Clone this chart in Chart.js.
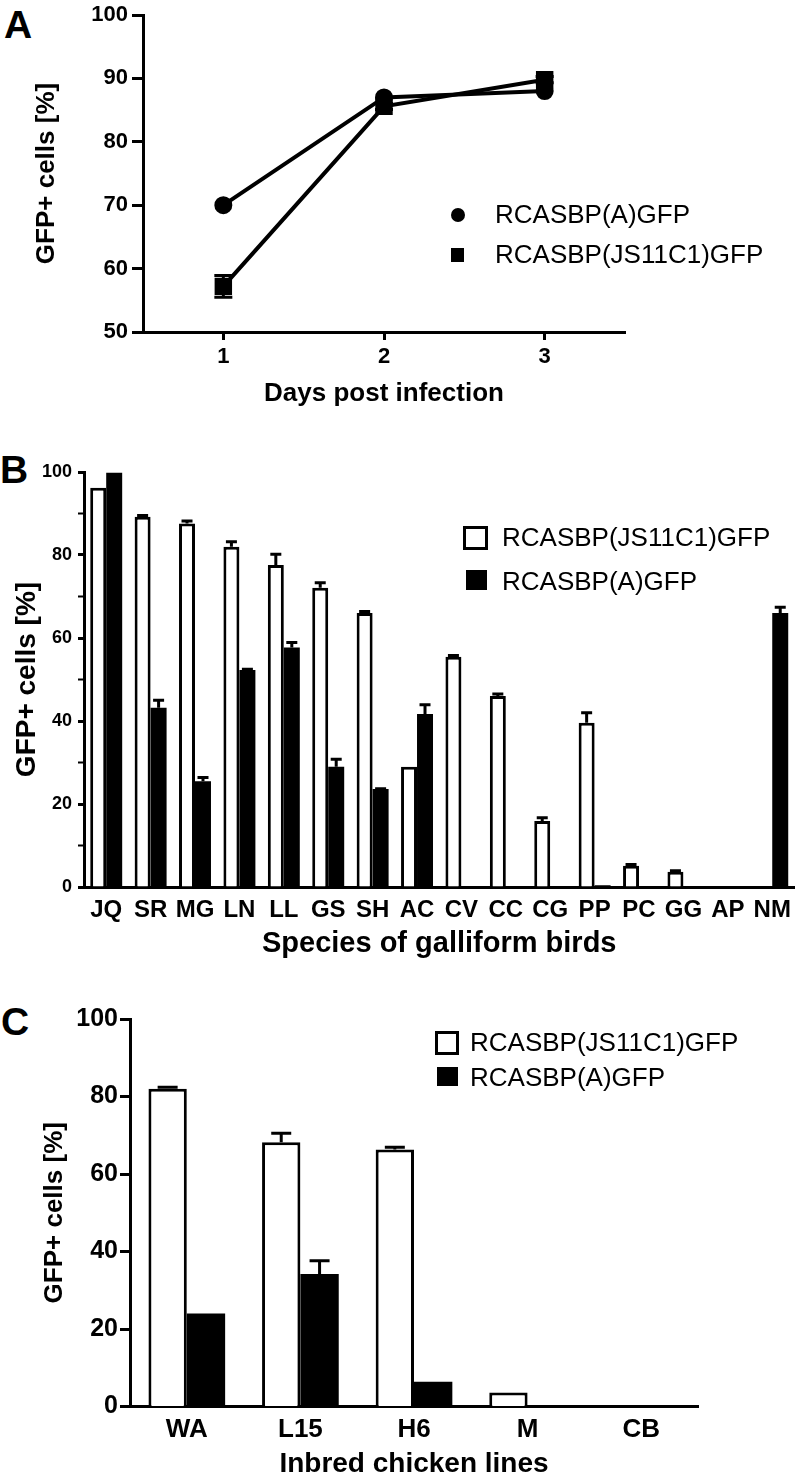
<!DOCTYPE html>
<html>
<head>
<meta charset="utf-8">
<title>GFP+ cells</title>
<script src="https://cdn.jsdelivr.net/npm/chart.js@4.4.1/dist/chart.umd.min.js"></script>
<style>
  body {
    margin: 0;
    width: 800px;
    height: 1478px;
    position: relative;
    overflow: hidden;
    background: #fff;
    font-family: "Liberation Sans", Arial, sans-serif;
    color: #000;
  }
  canvas, .lbl, .leg, .mk { position: absolute; }
  .lbl { font-weight: bold; font-size: 39px; line-height: 1; }
  .leg { font-size: 26px; line-height: 1; white-space: nowrap; }
  .mk { box-sizing: border-box; background: #000; }
  .mk.open { background: #fff; border: 3px solid #000; }
  .mk.dot { border-radius: 50%; }
</style>
</head>
<body>
<div class="lbl" style="left:4px;top:5px">A</div>
<div class="lbl" style="left:0px;top:450px">B</div>
<div class="lbl" style="left:1px;top:1002px">C</div>

<canvas id="lineChart" width="800" height="420" style="left:0;top:0;width:800px;height:420px"></canvas>
<canvas id="speciesChart" width="800" height="530" style="left:0;top:440px;width:800px;height:530px"></canvas>
<canvas id="inbredChart" width="800" height="503" style="left:0;top:975px;width:800px;height:503px"></canvas>

<!-- legends -->
<div class="mk dot" style="left:451px;top:208px;width:14px;height:14px"></div>
<div class="leg" id="legA1" style="left:495px;top:201px"></div>
<div class="mk" style="left:451px;top:248px;width:13px;height:14px"></div>
<div class="leg" id="legA2" style="left:495px;top:241px"></div>

<div class="mk open" style="left:463px;top:526px;width:25px;height:24px"></div>
<div class="leg" id="legB1" style="left:502px;top:524px"></div>
<div class="mk" style="left:466px;top:570px;width:21px;height:20px"></div>
<div class="leg" id="legB2" style="left:502px;top:568px"></div>

<div class="mk open" style="left:435px;top:1031px;width:24px;height:24px"></div>
<div class="leg" id="legC1" style="left:470px;top:1029px"></div>
<div class="mk" style="left:437px;top:1067px;width:21px;height:19px"></div>
<div class="leg" id="legC2" style="left:470px;top:1064px"></div>

<script>
// series names
const nameA = "RCASBP(A)GFP";
const nameJS = "RCASBP(JS11C1)GFP";

// A: infection time course
const days = [1, 2, 3];
const dayA = [70, 87, 88];
const dayAErr = [0, 0, 0];
const dayJS = [57.2, 85.6, 89.8];
const dayJSErr = [1.7, 0.5, 0.5];

// B: galliform species
const species = ["JQ", "SR", "MG", "LN", "LL", "GS", "SH", "AC", "CV", "CC", "CG", "PP", "PC", "GG", "AP", "NM"];
const speciesJS = [96.2, 89.2, 87.6, 82, 77.6, 72.1, 66, 29, 55.5, 46, 15.9, 39.6, 5.1, 3.7, 0, 0];
const speciesJSErr = [0, 0.3, 0.6, 1.2, 2.6, 1.2, 0.4, 0, 0.3, 0.5, 0.8, 2.4, 0.3, 0.2, 0, 0];
const speciesA = [99.8, 43.2, 25.5, 52.3, 57.7, 29, 23.6, 41.7, 0, 0, 0, 0.4, 0, 0, 0, 66];
const speciesAErr = [0, 1.8, 0.9, 0.2, 1.2, 1.8, 0.1, 2.2, 0, 0, 0, 0, 0, 0, 0, 1.4];

// C: inbred chicken lines
const lines = ["WA", "L15", "H6", "M", "CB"];
const linesJS = [82, 68.2, 66.3, 3.6, 0];
const linesJSErr = [0.4, 2.3, 0.6, 0, 0];
const linesA = [24, 34.2, 6.4, 0.3, 0];
const linesAErr = [0, 3.4, 0, 0, 0];

const yTitle = "GFP+ cells [%]";

Chart.defaults.font.family = '"Liberation Sans", Arial, sans-serif';
Chart.defaults.color = "#000";

// draws SEM bars from dataset.errors
const errorBars = {
  id: "errorBars",
  afterDatasetsDraw(chart, args, opts) {
    const ctx = chart.ctx;
    const yScale = chart.scales.y;
    ctx.save();
    ctx.strokeStyle = "#000";
    ctx.lineWidth = 3;
    chart.data.datasets.forEach((ds, i) => {
      if (!ds.errors) return;
      const meta = chart.getDatasetMeta(i);
      meta.data.forEach((el, j) => {
        const err = ds.errors[j];
        if (!err) return;
        const raw = ds.data[j];
        const v = typeof raw === "object" ? raw.y : raw;
        const hi = yScale.getPixelForValue(v + err);
        const lo = opts.both ? yScale.getPixelForValue(v - err) : el.y;
        const half = opts.cap / 2;
        ctx.beginPath();
        ctx.moveTo(el.x, lo);
        ctx.lineTo(el.x, hi);
        ctx.moveTo(el.x - half, hi);
        ctx.lineTo(el.x + half, hi);
        if (opts.both) {
          ctx.moveTo(el.x - half, lo);
          ctx.lineTo(el.x + half, lo);
        }
        ctx.stroke();
      });
    });
    ctx.restore();
  },
};

const axisBorder = { color: "#000", width: 3 };

//Line Chart (A)
document.addEventListener("DOMContentLoaded", function () {
  document.getElementById("legA1").textContent = nameA;
  document.getElementById("legA2").textContent = nameJS;

  const ctx = document.getElementById("lineChart").getContext("2d");
  new Chart(ctx, {
    type: "line",
    data: {
      datasets: [
        {
          label: nameA,
          data: days.map((d, i) => ({ x: d, y: dayA[i] })),
          errors: dayAErr,
          borderColor: "#000",
          backgroundColor: "#000",
          borderWidth: 4,
          pointStyle: "circle",
          pointRadius: 7,
          tension: 0,
        },
        {
          label: nameJS,
          data: days.map((d, i) => ({ x: d, y: dayJS[i] })),
          errors: dayJSErr,
          borderColor: "#000",
          backgroundColor: "#000",
          borderWidth: 4,
          pointStyle: "rect",
          pointRadius: 9.5,
          tension: 0,
        },
      ],
    },
    options: {
      responsive: false,
      animation: false,
      layout: { padding: { top: 11, right: 175, left: 0, bottom: 0 } },
      plugins: {
        legend: { display: false },
        tooltip: { enabled: false },
        errorBars: { cap: 18, both: true },
      },
      scales: {
        x: {
          type: "linear",
          min: 0.5,
          max: 3.5,
          afterBuildTicks: (s) => {
            s.ticks = days.map((d) => ({ value: d }));
          },
          afterFit: (s) => {
            s.height = 88;
          },
          grid: { drawOnChartArea: false, tickLength: 8, tickWidth: 3, tickColor: "#000" },
          border: axisBorder,
          ticks: { font: { size: 22, weight: "bold" }, padding: 4 },
          title: {
            display: true,
            text: "Days post infection",
            font: { size: 26, weight: "bold" },
            padding: { top: 0, bottom: 11 },
          },
        },
        y: {
          min: 50,
          max: 100,
          ticks: { stepSize: 10, font: { size: 22, weight: "bold", lineHeight: 1 }, padding: 4 },
          afterFit: (s) => {
            s.width = 143;
          },
          grid: { drawOnChartArea: false, tickLength: 11, tickWidth: 3, tickColor: "#000" },
          border: axisBorder,
          title: {
            display: true,
            text: yTitle,
            font: { size: 26, weight: "bold" },
            padding: { top: 31, bottom: 0 },
          },
        },
      },
    },
    plugins: [errorBars],
  });
});

//Bar Chart (B)
document.addEventListener("DOMContentLoaded", function () {
  document.getElementById("legB1").textContent = nameJS;
  document.getElementById("legB2").textContent = nameA;

  const ctx = document.getElementById("speciesChart").getContext("2d");
  new Chart(ctx, {
    type: "bar",
    data: {
      labels: species,
      datasets: [
        {
          label: nameJS,
          data: speciesJS,
          errors: speciesJSErr,
          backgroundColor: "#fff",
          borderColor: "#000",
          borderWidth: 3,
        },
        {
          label: nameA,
          data: speciesA,
          errors: speciesAErr,
          backgroundColor: "#000",
          borderWidth: 0,
        },
      ],
    },
    options: {
      responsive: false,
      animation: false,
      categoryPercentage: 0.72,
      barPercentage: 1,
      layout: { padding: { top: 32, right: 3, left: 0, bottom: 0 } },
      plugins: {
        legend: { display: false },
        tooltip: { enabled: false },
        errorBars: { cap: 11, both: false },
      },
      scales: {
        x: {
          afterFit: (s) => {
            s.height = 83;
          },
          grid: { drawOnChartArea: false, drawTicks: false },
          border: axisBorder,
          ticks: {
            autoSkip: false,
            maxRotation: 0,
            minRotation: 0,
            font: { size: 24, weight: "bold" },
            padding: 9,
          },
          title: {
            display: true,
            text: "Species of galliform birds",
            font: { size: 29, weight: "bold" },
            padding: { top: 0, bottom: 9 },
          },
        },
        y: {
          min: 0,
          max: 100,
          afterFit: (s) => {
            s.width = 84;
          },
          ticks: {
            stepSize: 10,
            font: { size: 18, weight: "bold", lineHeight: 1 },
            padding: 6,
            callback: (v) => (v % 20 === 0 ? v : ""),
          },
          grid: {
            drawOnChartArea: false,
            tickLength: 6,
            tickWidth: (c) => (c.tick && c.tick.value % 20 === 0 ? 3 : 2),
            tickColor: "#000",
          },
          border: axisBorder,
          title: {
            display: true,
            text: yTitle,
            font: { size: 28, weight: "bold" },
            padding: { top: 10, bottom: 0 },
          },
        },
      },
    },
    plugins: [errorBars],
  });
});

//Bar Chart (C)
document.addEventListener("DOMContentLoaded", function () {
  document.getElementById("legC1").textContent = nameJS;
  document.getElementById("legC2").textContent = nameA;

  const ctx = document.getElementById("inbredChart").getContext("2d");
  new Chart(ctx, {
    type: "bar",
    data: {
      labels: lines,
      datasets: [
        {
          label: nameJS,
          data: linesJS,
          errors: linesJSErr,
          backgroundColor: "#fff",
          borderColor: "#000",
          borderWidth: 3,
        },
        {
          label: nameA,
          data: linesA,
          errors: linesAErr,
          backgroundColor: "#000",
          borderWidth: 0,
        },
      ],
    },
    options: {
      responsive: false,
      animation: false,
      categoryPercentage: 0.675,
      barPercentage: 1,
      layout: { padding: { top: 44, right: 102, left: 0, bottom: 0 } },
      plugins: {
        legend: { display: false },
        tooltip: { enabled: false },
        errorBars: { cap: 20, both: false },
      },
      scales: {
        x: {
          afterFit: (s) => {
            s.height = 71.5;
          },
          grid: { drawOnChartArea: false, drawTicks: false },
          border: axisBorder,
          ticks: {
            autoSkip: false,
            maxRotation: 0,
            minRotation: 0,
            font: { size: 26, weight: "bold" },
            padding: 8,
          },
          title: {
            display: true,
            text: "Inbred chicken lines",
            font: { size: 28, weight: "bold", lineHeight: 1 },
            padding: { top: 0, bottom: 0 },
          },
        },
        y: {
          min: 0,
          max: 100,
          afterFit: (s) => {
            s.width = 130;
          },
          ticks: { stepSize: 20, font: { size: 25, weight: "bold", lineHeight: 1 }, padding: 2 },
          grid: { drawOnChartArea: false, tickLength: 10, tickWidth: 3, tickColor: "#000" },
          border: axisBorder,
          title: {
            display: true,
            text: yTitle,
            font: { size: 26, weight: "bold" },
            padding: { top: 39, bottom: 0 },
          },
        },
      },
    },
    plugins: [errorBars],
  });
});
</script>
</body>
</html>
